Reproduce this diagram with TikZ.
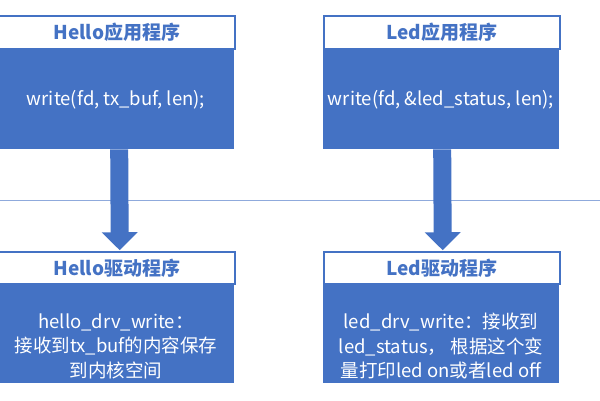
\documentclass[tikz,border=0pt]{standalone}
\usepackage{fontspec}
\setmainfont{Noto Sans CJK SC}
\usetikzlibrary{arrows.meta}
\definecolor{ppblue}{HTML}{4472C4}
\definecolor{ppline}{HTML}{8FAADC}
\tikzset{
  head/.style={draw=ppblue, line width=1.5pt, fill=white, minimum width=236pt, minimum height=33pt, inner sep=0pt, anchor=north west, text=ppblue, font=\fontsize{19}{22}\selectfont\bfseries},
  body/.style={fill=ppblue, minimum width=236pt, minimum height=101pt, inner sep=0pt, anchor=north west},
  bodytext/.style={text=white, align=center, inner sep=0pt, font=\fontsize{18.5}{24.5}\selectfont},
  bigarrow/.style={line width=18pt, draw=ppblue, -{Triangle[width=35pt,length=18pt]}}
}
\begin{document}
\begin{tikzpicture}[x=1pt,y=-1pt]
\useasboundingbox (0,0) rectangle (600,400);
\draw[ppline, line width=0.8pt] (0,200) -- (600,200);
% left
\node[body] (lab) at (-2,48) {};
\node[head] (lah) at (-2,15) {Hello应用程序};
\node[bodytext] (lat) at (116,100) {write(fd, tx\_buf, len);};
\node[body, minimum height=100pt] (ldb) at (-2,283) {};
\node[head, minimum height=32pt] (ldh) at (-2,251) {Hello驱动程序};
\node[bodytext] (ldt) at (116,346) {hello\_drv\_write：\\接收到tx\_buf的内容保存\\到内核空间};
% right
\node[body] (rab) at (323,48) {};
\node[head] (rah) at (323,15) {Led应用程序};
\node[bodytext] (rat) at (441,100) {write(fd, \&led\_status, len);};
\node[body, minimum height=100pt] (rdb) at (323,283) {};
\node[head, minimum height=32pt] (rdh) at (323,251) {Led驱动程序};
\node[bodytext] (rdt) at (441,346) {led\_drv\_write：接收到\\led\_status， 根据这个变\\量打印led on或者led off};
% arrows
\draw[bigarrow] ([xshift=3pt]lab.south) -- ([xshift=3pt,yshift=0.75pt]ldh.north);
\draw[bigarrow] ([xshift=1pt]rab.south) -- ([xshift=1pt,yshift=0.75pt]rdh.north);
\end{tikzpicture}
\end{document}
